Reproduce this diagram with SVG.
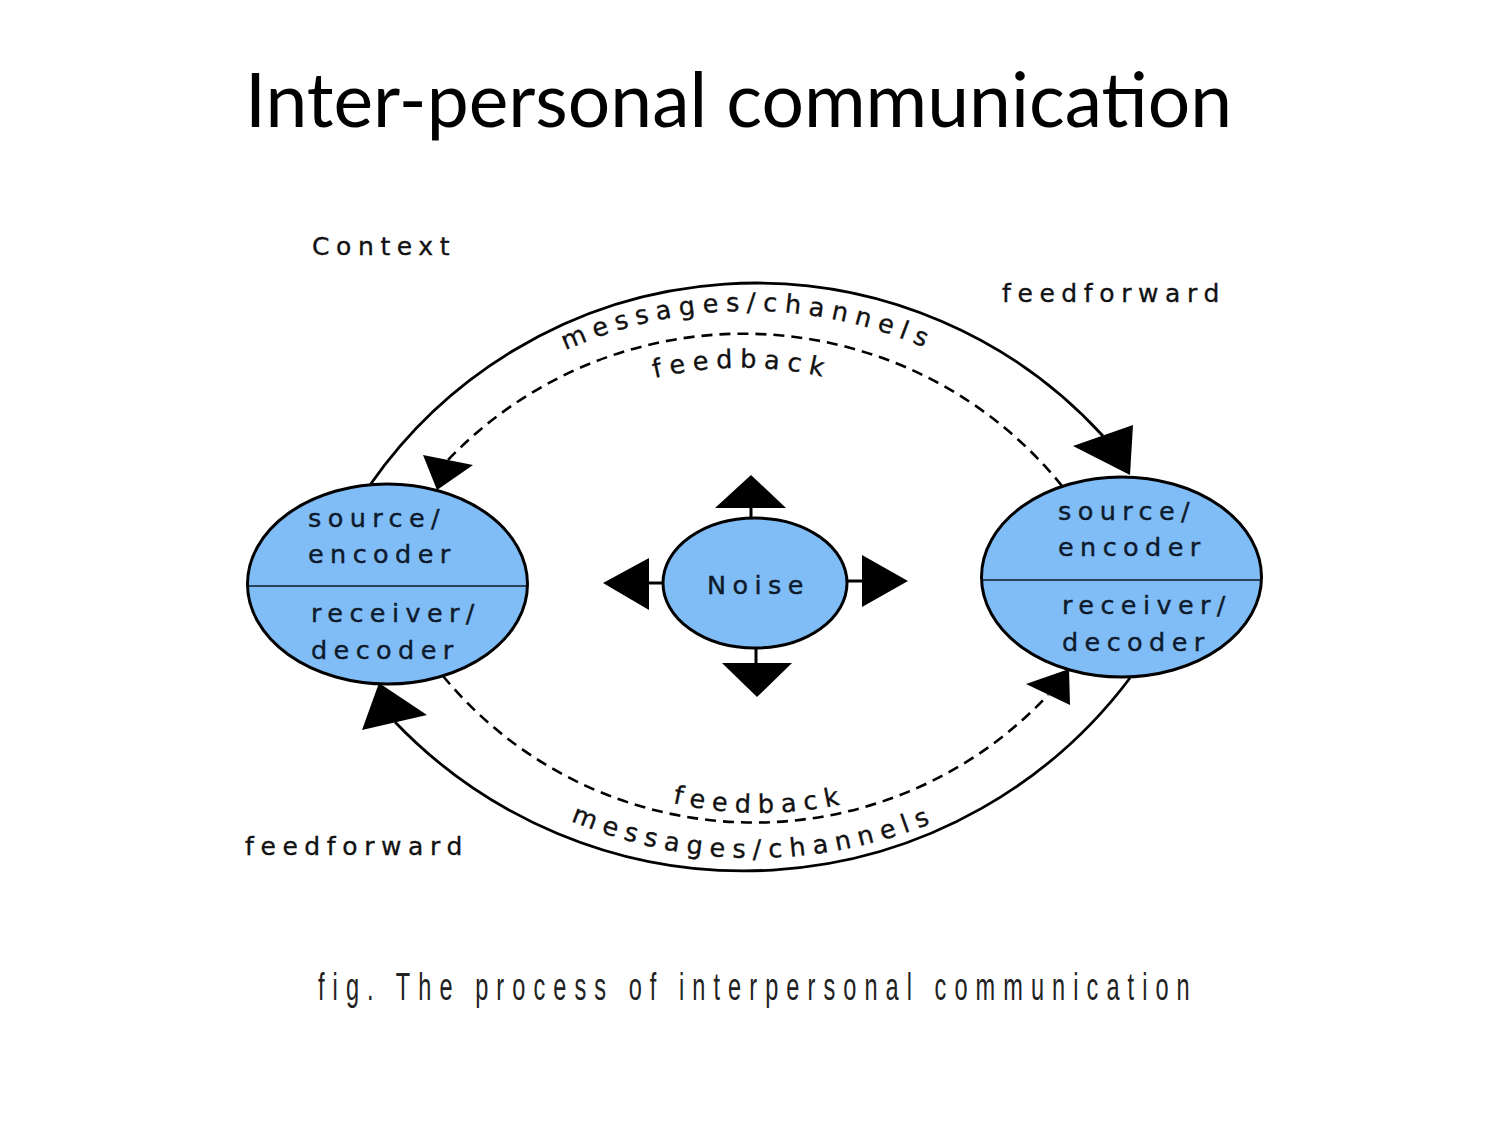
<svg xmlns="http://www.w3.org/2000/svg" width="1500" height="1125" viewBox="0 0 1500 1125">
<style>
.bg{fill:#ffffff}
.title{font-family:Lato,"Open Sans","Liberation Sans",sans-serif;font-size:76px;fill:#000}
.lbl{font-family:"DejaVu Sans","Liberation Sans",sans-serif;font-size:25px;letter-spacing:6.6px;fill:#111;stroke:#111;stroke-width:0.35}
.arc{font-family:"DejaVu Sans","Liberation Sans",sans-serif;font-size:25.5px;letter-spacing:7.4px;fill:#111;stroke:#111;stroke-width:0.35}
.nlbl{font-family:"DejaVu Sans","Liberation Sans",sans-serif;font-size:25.5px;letter-spacing:6.4px;fill:#0d1a2b;stroke:#0d1a2b;stroke-width:0.4}
.node{fill:#80bcf6;stroke:#000;stroke-width:3}
.div{stroke:#0d1a2b;stroke-width:1.5}
.solid{fill:none;stroke:#000;stroke-width:2.8}
.dash{fill:none;stroke:#000;stroke-width:2.6;stroke-dasharray:11 7}
.head{fill:#000}
.stem{stroke:#000;stroke-width:3}
.caption{font-family:"Liberation Sans",Arial,sans-serif;font-size:38px;fill:#222}
</style>
<defs>
<path id="tp-top-msg" d="M 365.2 532 A 442 442 0 0 1 1130.8 532"/>
<path id="tp-top-fb" d="M 420 554.5 A 371 371 0 0 1 1064 554.5"/>
<path id="tp-bot-fb" d="M 422.3 618 A 390 390 0 0 0 1097.7 618"/>
<path id="tp-bot-msg" d="M 347 623 A 470 470 0 0 0 1161 623"/>
</defs>
<rect class="bg" x="0" y="0" width="1500" height="1125"/>
<text class="title" x="245" y="127" textLength="987" lengthAdjust="spacingAndGlyphs">Inter-personal communication</text>

<text class="lbl" x="312" y="255">Context</text>
<text class="lbl" x="1002" y="302">feedforward</text>
<text class="lbl" x="245" y="855">feedforward</text>

<g id="node-left">
<ellipse class="node" cx="387.5" cy="584" rx="140" ry="100"/>
<line class="div" x1="249" y1="586" x2="526" y2="586"/>
<text class="nlbl" x="308" y="527">source/</text>
<text class="nlbl" x="308" y="563">encoder</text>
<text class="nlbl" x="311" y="622">receiver/</text>
<text class="nlbl" x="311" y="659">decoder</text>
</g>

<g id="node-right">
<ellipse class="node" cx="1121.5" cy="577" rx="140" ry="100"/>
<line class="div" x1="983" y1="580" x2="1260" y2="580"/>
<text class="nlbl" x="1058" y="520">source/</text>
<text class="nlbl" x="1058" y="556">encoder</text>
<text class="nlbl" x="1062" y="614">receiver/</text>
<text class="nlbl" x="1062" y="651">decoder</text>
</g>

<g id="node-noise">
<line class="stem" x1="751" y1="506" x2="751" y2="519"/>
<line class="stem" x1="648" y1="583" x2="664" y2="583"/>
<line class="stem" x1="846" y1="581" x2="862" y2="581"/>
<line class="stem" x1="756" y1="647" x2="756" y2="664"/>
<polygon class="head" points="751,475 715,508 786,508"/>
<polygon class="head" points="603,583 649,558 649,610"/>
<polygon class="head" points="908,581 862,555 862,607"/>
<polygon class="head" points="757,697 722,663 792,663"/>
<ellipse class="node" cx="755" cy="583" rx="92" ry="65"/>
<text class="nlbl" x="707" y="594">Noise</text>
</g>

<g id="connectors">
<path class="solid" d="M 370 485 A 470 470 0 0 1 1103 436"/>
<polygon class="head" points="1073,446 1133,425 1130,475"/>
<path class="dash" d="M 1062 486 A 409 409 0 0 0 448 460"/>
<polygon class="head" points="423,455 473,465 437,490"/>
<path class="solid" d="M 1130 678 A 483 483 0 0 1 395 722"/>
<polygon class="head" points="379,683 427,715 362,730"/>
<path class="dash" d="M 443 676 A 403 403 0 0 0 1048 695"/>
<polygon class="head" points="1026,684 1069,669 1070,705"/>
<text class="arc"><textPath href="#tp-top-msg" startOffset="50%" text-anchor="middle">messages/channels</textPath></text>
<text class="arc"><textPath href="#tp-top-fb" startOffset="50%" text-anchor="middle">feedback</textPath></text>
<text class="arc"><textPath href="#tp-bot-fb" startOffset="50%" text-anchor="middle">feedback</textPath></text>
<text class="arc"><textPath href="#tp-bot-msg" startOffset="50%" text-anchor="middle">messages/channels</textPath></text>
</g>

<text class="caption" transform="translate(318 1000) scale(0.62 1)" x="0" y="0" textLength="1406" lengthAdjust="spacing">fig. The process of interpersonal communication</text>
</svg>
